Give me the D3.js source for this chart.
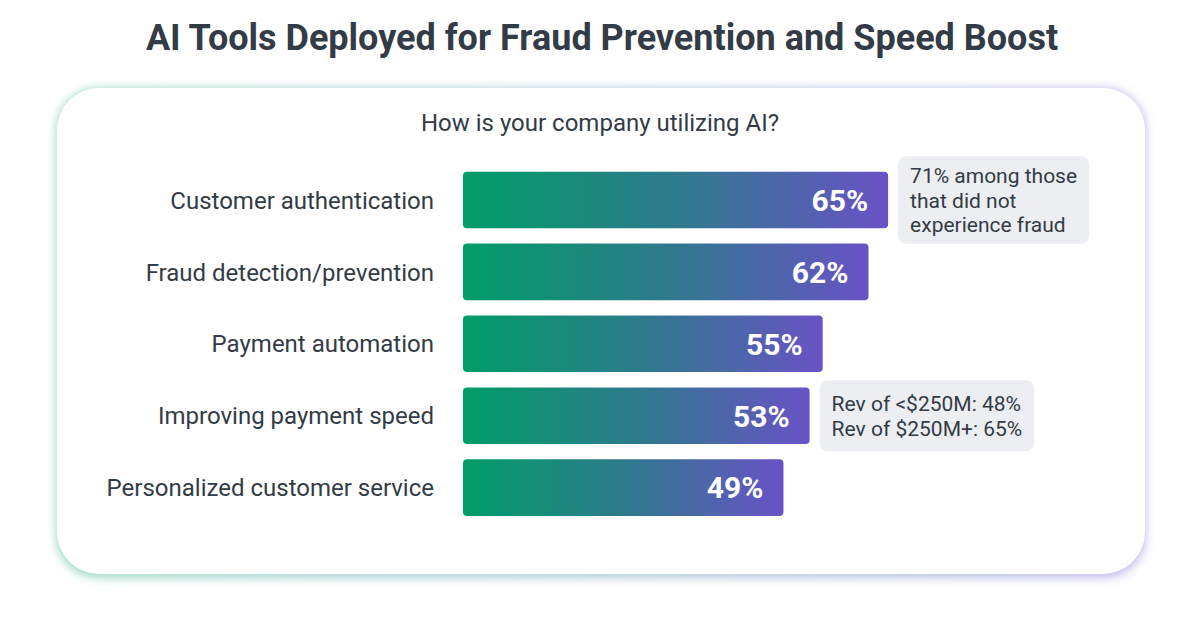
<!DOCTYPE html>
<html><head><meta charset="utf-8">
<script src="https://cdn.jsdelivr.net/npm/d3@7"></script>
<style>html,body{margin:0;padding:0;background:#fff;}svg{display:block;font-family:Roboto,"Noto Sans",sans-serif;}</style>
</head><body>
<svg id="c" width="1201" height="636"></svg>
<script>
const title = "AI Tools Deployed for Fraud Prevention and Speed Boost";
const subtitle = "How is your company utilizing AI?";
const categories = ["Customer authentication","Fraud detection/prevention","Payment automation","Improving payment speed","Personalized customer service"];
const values = [65, 62, 55, 53, 49];
const notes = [
  {cat: "Customer authentication", lines: ["71% among those","that did not","experience fraud"]},
  {cat: "Improving payment speed", lines: ["Rev of <$250M: 48%","Rev of $250M+: 65%"]}
];

const svg = d3.select("#c");
const defs = svg.append("defs");
const bg = defs.append("linearGradient").attr("id","barg").attr("x1","0").attr("x2","1").attr("y1","0").attr("y2","0");
bg.append("stop").attr("offset","0").attr("stop-color","#019d67");
bg.append("stop").attr("offset","0.5").attr("stop-color","#2e7a8c");
bg.append("stop").attr("offset","1").attr("stop-color","#6a52c6");
const sg = defs.append("linearGradient").attr("id","shg").attr("x1","0").attr("x2","1");
sg.append("stop").attr("offset","0").attr("stop-color","#9fdcc6");
sg.append("stop").attr("offset","1").attr("stop-color","#c4bcee");
defs.append("filter").attr("id","blur").attr("x","-10%").attr("y","-10%").attr("width","120%").attr("height","120%")
  .append("feGaussianBlur").attr("stdDeviation", 5);

// title
svg.append("text").attr("x",602).attr("y",50).attr("text-anchor","middle")
  .attr("font-size",36).attr("font-weight",700).attr("fill","#333b46").text(title);

// card
const card = {x:57, y:88, w:1088, h:486, r:42};
svg.append("rect").attr("x",card.x-1).attr("y",card.y).attr("width",card.w+2).attr("height",card.h+4)
  .attr("rx",card.r).attr("fill","url(#shg)").attr("filter","url(#blur)");
svg.append("rect").attr("x",card.x).attr("y",card.y).attr("width",card.w).attr("height",card.h)
  .attr("rx",card.r).attr("fill","#fff");

svg.append("text").attr("x",600).attr("y",131).attr("text-anchor","middle")
  .attr("font-size",24).attr("fill","#333b46").text(subtitle);

const x = d3.scaleLinear().domain([0,100]).range([463, 463+654]);
const y = d3.scaleBand().domain(categories).range([164.5, 523.1]).paddingInner(0.213).paddingOuter(0.1);

const g = svg.append("g");
categories.forEach((c,i)=>{
  const v = values[i];
  const yy = y(c), h = y.bandwidth();
  g.append("rect").attr("x",x(0)).attr("y",yy).attr("width",x(v)-x(0)).attr("height",h)
    .attr("rx",4).attr("fill","url(#barg)");
  g.append("text").attr("x",x(v)-20).attr("y",yy+h/2).attr("dy","0.36em").attr("text-anchor","end")
    .attr("font-size",30).attr("font-weight",700).attr("fill","#fff").text(v+"%");
  g.append("text").attr("x",434).attr("y",yy+h/2).attr("dy","0.36em").attr("text-anchor","end")
    .attr("font-size",24).attr("fill","#333b46").text(c);
});

notes.forEach(n=>{
  const i = categories.indexOf(n.cat);
  const v = values[i];
  const yc = y(n.cat)+y.bandwidth()/2;
  const lh = 24.5;
  const bh = Math.max(n.lines.length*lh + 14, 71);
  const gg = svg.append("g");
  const bx = x(v)+10;
  const texts = n.lines.map((l,k)=> gg.append("text").attr("x",bx+12).attr("y", yc - (n.lines.length-1)*lh/2 + k*lh).attr("dy","0.36em")
      .attr("font-size",21).attr("fill","#333b46").text(l));
  const w = d3.max(texts, t=>t.node().getComputedTextLength());
  gg.insert("rect","text").attr("x",bx).attr("y",yc-bh/2).attr("width",w+24).attr("height",bh)
    .attr("rx",8).attr("fill","#eceef1");
});
</script>
</body></html>
